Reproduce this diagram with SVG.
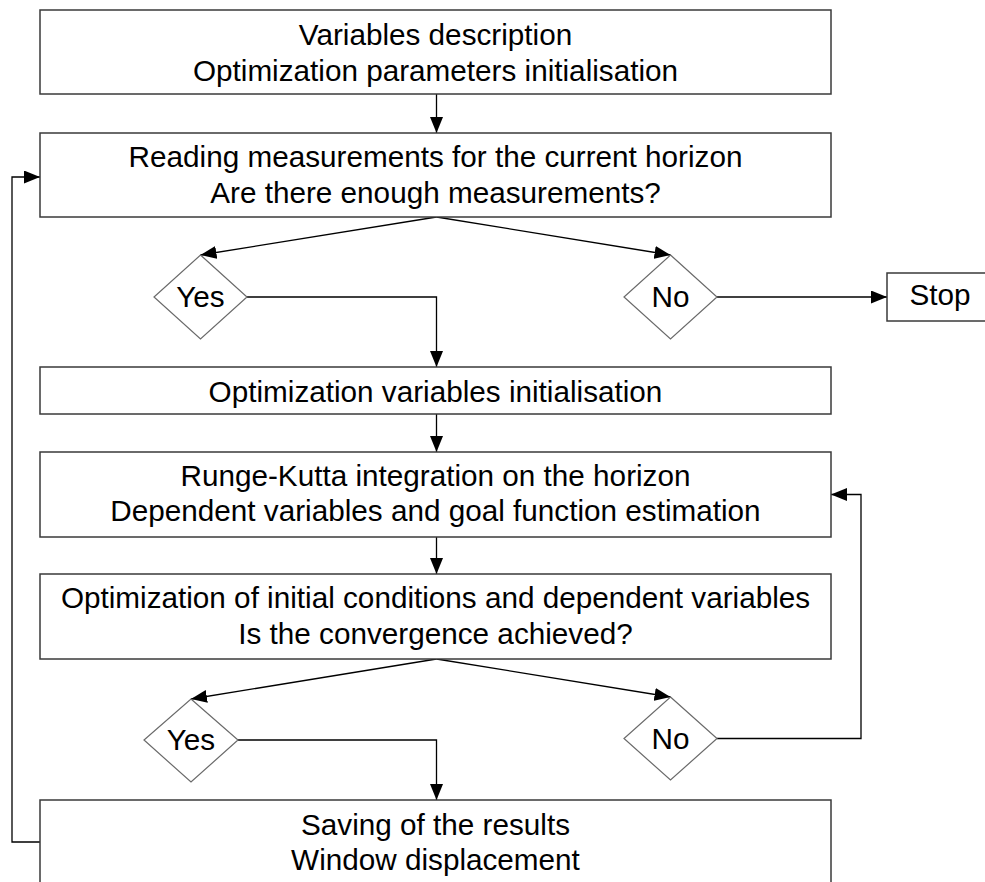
<svg xmlns="http://www.w3.org/2000/svg" width="985" height="882" viewBox="0 0 985 882">
  <style>
    .box { fill: #ffffff; stroke: #3a3a3a; stroke-width: 1.5; }
    .dia { fill: #ffffff; stroke: #6a6a6a; stroke-width: 1.2; }
    .lbl { font-family: "Liberation Sans", Arial, sans-serif; font-size: 29.7px; fill: #000000; text-anchor: middle; }
    .con { fill: none; stroke: #000000; stroke-width: 1.3; }
  </style>
  <defs>
    <marker id="arrow" viewBox="0 0 16 13" refX="16" refY="6.5" markerWidth="16" markerHeight="13" markerUnits="userSpaceOnUse" orient="auto">
      <path d="M0,0 L16,6.5 L0,13 Z" fill="#000000"/>
    </marker>
  </defs>
  <rect width="985" height="882" fill="#ffffff"/>

  <g id="connectors">
    <line class="con" x1="436.5" y1="94" x2="436.5" y2="133" marker-end="url(#arrow)"/>
    <line class="con" x1="436.5" y1="217" x2="200.5" y2="255" marker-end="url(#arrow)"/>
    <line class="con" x1="436.5" y1="217" x2="670.5" y2="255" marker-end="url(#arrow)"/>
    <polyline class="con" points="247,297 436.5,297 436.5,367" marker-end="url(#arrow)"/>
    <line class="con" x1="717" y1="297" x2="887" y2="297" marker-end="url(#arrow)"/>
    <line class="con" x1="436.5" y1="414" x2="436.5" y2="452" marker-end="url(#arrow)"/>
    <line class="con" x1="436.5" y1="537" x2="436.5" y2="574" marker-end="url(#arrow)"/>
    <line class="con" x1="436.5" y1="659" x2="191" y2="699" marker-end="url(#arrow)"/>
    <line class="con" x1="436.5" y1="659" x2="670.5" y2="697" marker-end="url(#arrow)"/>
    <polyline class="con" points="238,740 436.5,740 436.5,800" marker-end="url(#arrow)"/>
    <polyline class="con" points="717,738.5 861,738.5 861,494.5 831,494.5" marker-end="url(#arrow)"/>
    <polyline class="con" points="40,842 12,842 12,177 40,177" marker-end="url(#arrow)"/>
  </g>

  <g id="init">
    <rect class="box" x="40" y="10" width="791" height="84"/>
    <text class="lbl" x="435.5" y="45">Variables description</text>
    <text class="lbl" x="435.5" y="81">Optimization parameters initialisation</text>
  </g>

  <g id="reading">
    <rect class="box" x="40" y="133" width="791" height="84"/>
    <text class="lbl" x="435.5" y="167">Reading measurements for the current horizon</text>
    <text class="lbl" x="435.5" y="203">Are there enough measurements?</text>
  </g>

  <g id="yes1">
    <polygon class="dia" points="200.5,255 247,297 200.5,339 154,297"/>
    <text class="lbl" x="200.5" y="307">Yes</text>
  </g>

  <g id="no1">
    <polygon class="dia" points="670.5,255 717,297 670.5,339 624,297"/>
    <text class="lbl" x="670.5" y="307">No</text>
  </g>

  <g id="stop">
    <rect class="box" x="887" y="273" width="106" height="48"/>
    <text class="lbl" x="940" y="305">Stop</text>
  </g>

  <g id="varinit">
    <rect class="box" x="40" y="367" width="791" height="47"/>
    <text class="lbl" x="435.5" y="402">Optimization variables initialisation</text>
  </g>

  <g id="rungekutta">
    <rect class="box" x="40" y="452" width="791" height="85"/>
    <text class="lbl" x="435.5" y="486">Runge-Kutta integration on the horizon</text>
    <text class="lbl" x="435.5" y="521">Dependent variables and goal function estimation</text>
  </g>

  <g id="optimization">
    <rect class="box" x="40" y="574" width="791" height="85"/>
    <text class="lbl" x="435.5" y="608">Optimization of initial conditions and dependent variables</text>
    <text class="lbl" x="435.5" y="644">Is the convergence achieved?</text>
  </g>

  <g id="yes2">
    <polygon class="dia" points="191,699 238,740 191,782 144,740"/>
    <text class="lbl" x="191" y="750">Yes</text>
  </g>

  <g id="no2">
    <polygon class="dia" points="670.5,697 717,738.5 670.5,780 624,738.5"/>
    <text class="lbl" x="670.5" y="749">No</text>
  </g>

  <g id="saving">
    <rect class="box" x="40" y="800" width="791" height="95"/>
    <text class="lbl" x="435.5" y="835">Saving of the results</text>
    <text class="lbl" x="435.5" y="870">Window displacement</text>
  </g>
</svg>
